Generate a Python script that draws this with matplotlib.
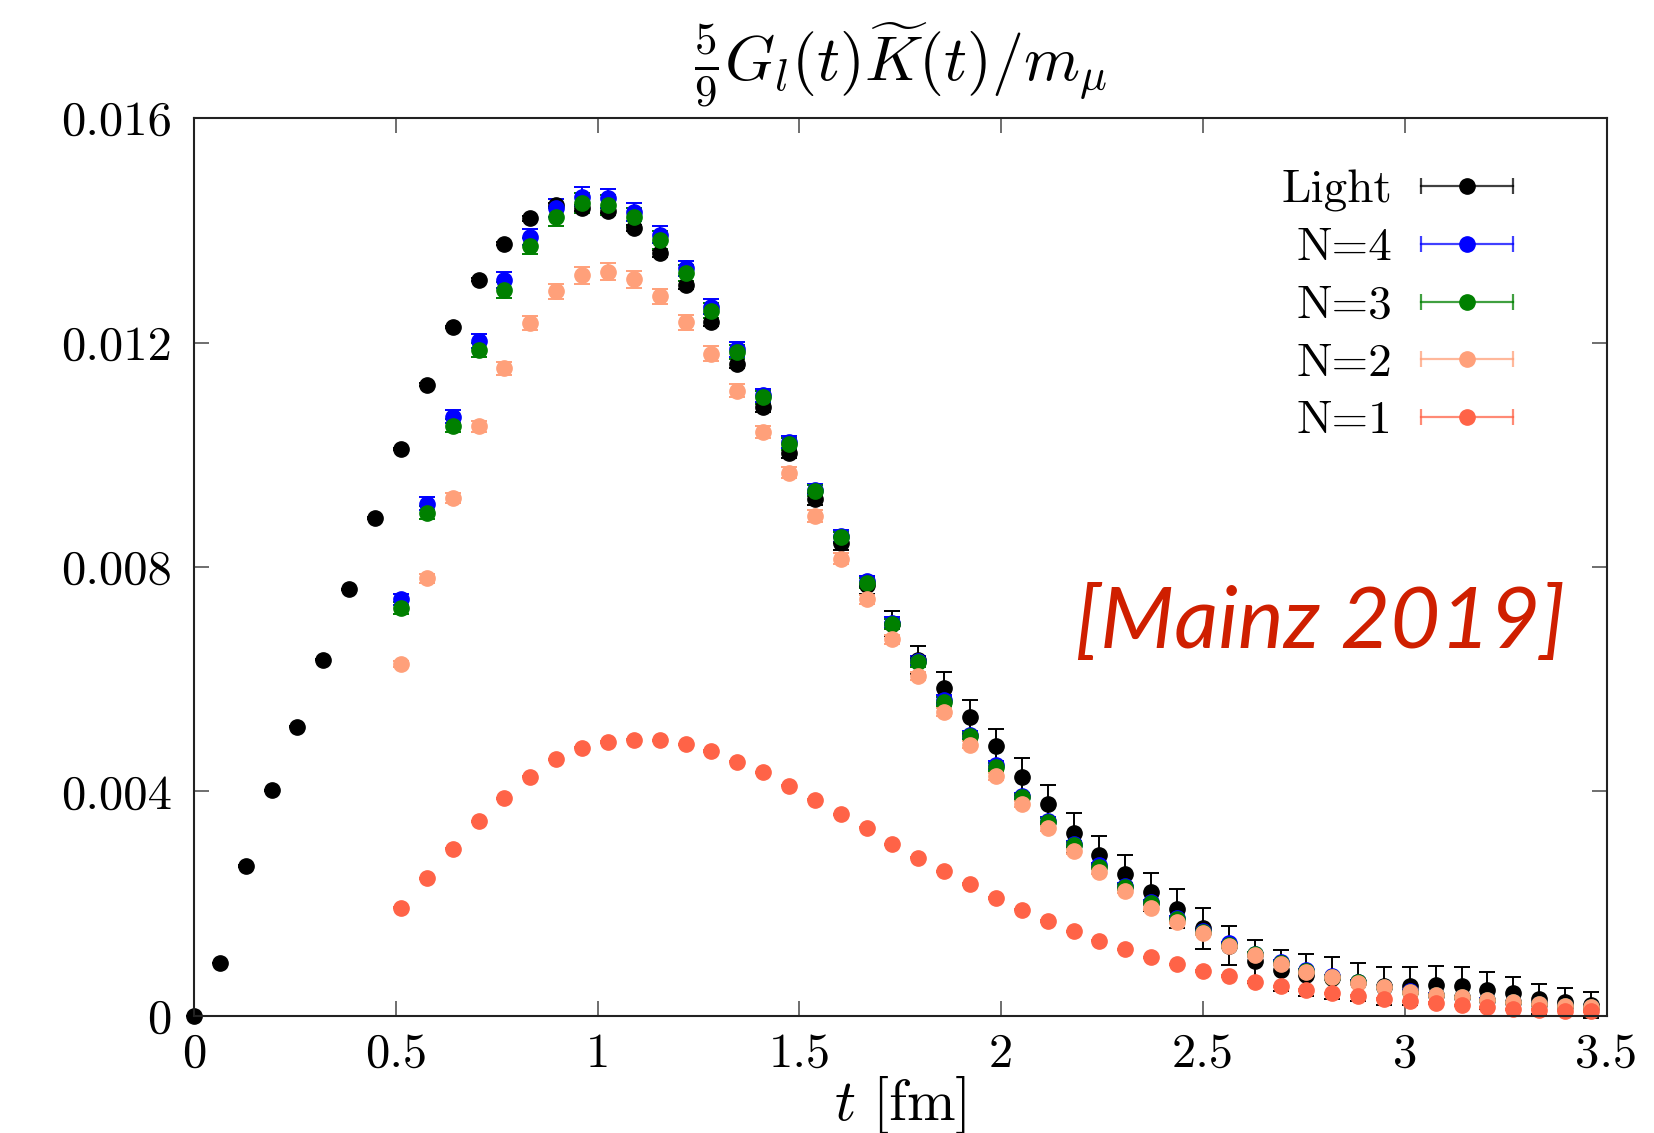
import numpy as np
import matplotlib
matplotlib.use("Agg")
import matplotlib.pyplot as plt
from matplotlib.lines import Line2D
from matplotlib.legend_handler import HandlerTuple, HandlerLine2D

plt.rcParams['mathtext.fontset'] = 'cm'
plt.rcParams['font.family'] = 'serif'
plt.rcParams['font.serif'] = ['cmr10', 'DejaVu Serif']

# time slices (lattice spacing ~0.0641 fm)
a = 0.0641
t_light = np.arange(55) * a
t_n = np.arange(8, 55) * a

# values in units of 1e-3
light = [0.00, 0.94, 2.67, 4.02, 5.15, 6.35, 7.60, 8.87, 10.10, 11.25,
         12.27, 13.12, 13.76, 14.21, 14.45, 14.40, 14.35, 14.04, 13.59, 13.03,
         12.36, 11.62, 10.85, 10.03, 9.21, 8.42, 7.68, 6.99, 6.34, 5.85,
         5.32, 4.81, 4.26, 3.77, 3.26, 2.86, 2.53, 2.20, 1.91, 1.56,
         1.25, 0.97, 0.81, 0.73, 0.67, 0.61, 0.53, 0.53, 0.55, 0.53,
         0.46, 0.40, 0.30, 0.24, 0.20]
light_err = [0.00, 0.00, 0.01, 0.01, 0.01, 0.01, 0.01, 0.02, 0.02, 0.02,
             0.02, 0.03, 0.03, 0.04, 0.04, 0.05, 0.05, 0.06, 0.06, 0.07,
             0.07, 0.08, 0.08, 0.09, 0.10, 0.12, 0.16, 0.22, 0.25, 0.28,
             0.30, 0.31, 0.33, 0.34, 0.35, 0.34, 0.34, 0.34, 0.35, 0.36,
             0.35, 0.38, 0.37, 0.37, 0.37, 0.34, 0.34, 0.34, 0.33, 0.34,
             0.33, 0.29, 0.27, 0.25, 0.23]

n4 = [7.42, 9.13, 10.68, 12.03, 13.12, 13.88, 14.39, 14.60, 14.57, 14.33,
      13.92, 13.32, 12.64, 11.88, 11.06, 10.23, 9.38, 8.55, 7.75, 7.01,
      6.33, 5.63, 5.01, 4.47, 3.92, 3.48, 3.06, 2.68, 2.32, 2.03,
      1.74, 1.51, 1.29, 1.11, 0.96, 0.81, 0.71, 0.61, 0.52, 0.44,
      0.38, 0.34, 0.29, 0.25, 0.22, 0.18, 0.16]
n4_err = [0.10, 0.11, 0.12, 0.13, 0.14, 0.15, 0.16, 0.17, 0.17, 0.16,
          0.15, 0.14, 0.14, 0.13, 0.12, 0.11, 0.10, 0.10, 0.09, 0.09,
          0.08, 0.08, 0.07, 0.07, 0.06, 0.06, 0.05, 0.05, 0.05, 0.04,
          0.04, 0.04, 0.03, 0.03, 0.03, 0.03, 0.02, 0.02, 0.02, 0.02,
          0.02, 0.02, 0.02, 0.01, 0.01, 0.01, 0.01]

n3 = [7.27, 8.97, 10.52, 11.87, 12.94, 13.72, 14.24, 14.48, 14.45, 14.23,
      13.82, 13.24, 12.57, 11.83, 11.02, 10.19, 9.36, 8.53, 7.72, 6.98,
      6.30, 5.60, 4.98, 4.44, 3.90, 3.46, 3.04, 2.66, 2.30, 2.01,
      1.72, 1.50, 1.27, 1.10, 0.95, 0.80, 0.70, 0.60, 0.51, 0.43,
      0.37, 0.33, 0.28, 0.24, 0.21, 0.18, 0.15]
n3_err = [0.10, 0.11, 0.12, 0.13, 0.14, 0.15, 0.16, 0.18, 0.18, 0.17,
          0.16, 0.15, 0.14, 0.13, 0.12, 0.11, 0.10, 0.10, 0.09, 0.09,
          0.08, 0.08, 0.07, 0.07, 0.06, 0.06, 0.05, 0.05, 0.05, 0.04,
          0.04, 0.04, 0.03, 0.03, 0.03, 0.03, 0.02, 0.02, 0.02, 0.02,
          0.02, 0.02, 0.02, 0.01, 0.01, 0.01, 0.01]

n2 = [6.27, 7.80, 9.23, 10.51, 11.54, 12.35, 12.91, 13.20, 13.26, 13.13,
      12.82, 12.36, 11.80, 11.14, 10.41, 9.68, 8.91, 8.15, 7.42, 6.71,
      6.05, 5.41, 4.83, 4.27, 3.78, 3.34, 2.93, 2.57, 2.23, 1.93,
      1.68, 1.47, 1.25, 1.08, 0.93, 0.79, 0.69, 0.59, 0.51, 0.43,
      0.37, 0.33, 0.28, 0.24, 0.21, 0.18, 0.15]
n2_err = [0.06, 0.08, 0.09, 0.10, 0.12, 0.13, 0.14, 0.15, 0.15, 0.15,
          0.14, 0.13, 0.13, 0.12, 0.11, 0.10, 0.10, 0.09, 0.08, 0.08,
          0.07, 0.07, 0.06, 0.06, 0.05, 0.05, 0.05, 0.04, 0.04, 0.04,
          0.03, 0.03, 0.03, 0.03, 0.02, 0.02, 0.02, 0.02, 0.02, 0.02,
          0.01, 0.01, 0.01, 0.01, 0.01, 0.01, 0.01]

n1 = [1.93, 2.45, 2.98, 3.47, 3.88, 4.26, 4.57, 4.78, 4.88, 4.92,
      4.91, 4.84, 4.72, 4.53, 4.34, 4.10, 3.85, 3.59, 3.35, 3.06,
      2.82, 2.58, 2.35, 2.10, 1.89, 1.69, 1.51, 1.34, 1.19, 1.04,
      0.92, 0.80, 0.71, 0.61, 0.53, 0.46, 0.40, 0.36, 0.30, 0.26,
      0.23, 0.19, 0.15, 0.12, 0.11, 0.09, 0.08]

series = [
    ("Light", t_light, light, light_err, "black"),
    ("N=4", t_n, n4, n4_err, "#0000ff"),
    ("N=3", t_n, n3, n3_err, "#008000"),
    ("N=2", t_n, n2, n2_err, "#ffa07a"),
    ("N=1", t_n, n1, [0.01] * len(n1), "#ff6347"),
]

fig, ax = plt.subplots(figsize=(16.54, 11.33), dpi=100)
fig.subplots_adjust(left=0.1173, right=0.9713, bottom=0.1034, top=0.8958)

handles = []
labels = []
hmap = {tuple: HandlerTuple(ndivide=1, pad=0)}
for name, t, y, e, c in series:
    y = np.array(y) * 1e-3
    e = np.array(e) * 1e-3
    cont = ax.errorbar(t, y, yerr=e, fmt='o', color=c, ms=11, elinewidth=1.4,
                       capsize=6, capthick=1.4)
    for art in cont.get_children():
        art.set_clip_on(False)
    bar = Line2D([], [], color=c, lw=1.6, marker='|', ms=12, mew=1.6, alpha=0.75)
    dot = Line2D([], [], color=c, marker='o', ls='none', ms=11)
    hmap[bar] = HandlerLine2D(numpoints=2)
    handles.append((bar, dot))
    labels.append(name)

ax.set_xlim(0, 3.5)
ax.set_ylim(0, 0.016)
ax.set_xticks([0, 0.5, 1, 1.5, 2, 2.5, 3, 3.5],
              labels=["0", "0.5", "1", "1.5", "2", "2.5", "3", "3.5"])
ax.set_yticks([0, 0.004, 0.008, 0.012, 0.016],
              labels=["0", "0.004", "0.008", "0.012", "0.016"])
ax.tick_params(direction='in', top=True, right=True, length=11, width=1.2,
               color='#555555', labelsize=35)
ax.tick_params(axis='y', pad=16)
ax.tick_params(axis='x', pad=12)
for s in ax.spines.values():
    s.set_linewidth(1.5)
    s.set_color('#222222')

ax.set_title(r'$\frac{5}{9}G_l(t)\widetilde{K}(t)/m_\mu$', fontsize=46, pad=27)
ax.set_xlabel(r'$t\ [\mathrm{fm}]$', fontsize=42, labelpad=-2)

ax.legend(handles, labels, handler_map=hmap, loc='upper right',
          bbox_to_anchor=(0.944, 0.943), frameon=False, markerfirst=False,
          fontsize=34, handlelength=2.56, handletextpad=0.3, labelspacing=0.33,
          borderpad=0, borderaxespad=0)

ax.text(0.797, 0.437, '[Mainz 2019]', transform=ax.transAxes, ha='center',
        va='center', fontsize=62, style='italic', family='Lato', color='#cf1f00')

plt.savefig('out.png')
